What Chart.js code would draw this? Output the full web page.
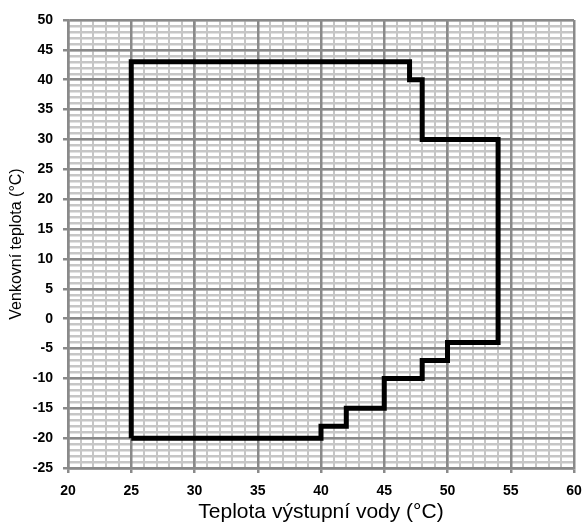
<!DOCTYPE html>
<html>
<head>
<meta charset="utf-8">
<script src="https://cdn.jsdelivr.net/npm/chart.js@4/dist/chart.umd.min.js"></script>
<style>
body { margin: 0; background: #fff; }
#wrap { width: 585px; height: 525px; }
</style>
</head>
<body>
<div id="wrap"><canvas id="envelope"></canvas></div>
<script>
// Operating envelope outline (water outlet temp vs outdoor temp)
const outlineX = [25, 25, 47, 47, 48, 48, 54, 54, 50, 50, 48, 48, 45, 45, 42, 42, 40, 40, 25];
const outlineY = [-20, 43, 43, 40, 40, 30, 30, -4, -4, -7, -7, -10, -10, -15, -15, -18, -18, -20, -20];

const xRange = [20, 60];
const yRange = [-25, 50];
const majorStep = 5;
const minorStep = 1;

const xTitle = 'Teplota výstupní vody (°C)';
const yTitle = 'Venkovní teplota (°C)';

const points = outlineX.map((x, i) => ({ x: x, y: outlineY[i] }));

const majorGrid = '#8a8a8a';
const minorGrid = '#c6c6c6';
const sans = "'Liberation Sans', Arial, sans-serif";
const tickFont = { family: sans, size: 14, weight: 'bold' };

function noPad(s) {
    s.paddingLeft = 0;
    s.paddingRight = 0;
    s.paddingTop = 0;
    s.paddingBottom = 0;
}

function minorScale(axis, range, position) {
    return {
        type: 'linear',
        axis: axis,
        position: position,
        min: range[0],
        max: range[1],
        ticks: { display: false, stepSize: minorStep },
        grid: { color: minorGrid, lineWidth: axis === 'y' ? 2.5 : 2, drawTicks: false, z: -2 },
        border: { display: false },
        afterFit: s => {
            if (axis === 'y') s.width = 0; else s.height = 0;
            noPad(s);
        }
    };
}

new Chart(document.getElementById('envelope'), {
    type: 'scatter',
    data: {
        datasets: [{
            data: points,
            showLine: true,
            borderColor: '#000',
            borderWidth: 5,
            borderJoinStyle: 'miter',
            pointRadius: 0,
            tension: 0,
            xAxisID: 'x',
            yAxisID: 'y'
        }]
    },
    options: {
        responsive: true,
        maintainAspectRatio: false,
        animation: false,
        layout: { padding: { top: 20, right: 11, left: 0, bottom: 0 } },
        plugins: { legend: { display: false }, tooltip: { enabled: false } },
        scales: {
            xMinor: minorScale('x', xRange, 'bottom'),
            yMinor: minorScale('y', yRange, 'left'),
            x: {
                type: 'linear',
                position: 'bottom',
                min: xRange[0],
                max: xRange[1],
                ticks: { stepSize: majorStep, color: '#000', font: tickFont, padding: 10 },
                grid: { color: majorGrid, lineWidth: 2.5, tickLength: 5, tickColor: majorGrid, z: -1 },
                border: { color: majorGrid, width: 2.5 },
                title: {
                    display: true,
                    text: xTitle,
                    color: '#000',
                    font: { family: sans, size: 21 },
                    padding: { top: 2, bottom: 0 }
                },
                afterFit: s => { s.height = 57; noPad(s); }
            },
            y: {
                type: 'linear',
                position: 'left',
                min: yRange[0],
                max: yRange[1],
                ticks: { stepSize: majorStep, color: '#000', font: tickFont, padding: 10 },
                grid: { color: majorGrid, lineWidth: 2.5, tickLength: 5, tickColor: majorGrid, z: -1 },
                border: { color: majorGrid, width: 2.5 },
                title: {
                    display: true,
                    text: yTitle,
                    color: '#000',
                    font: { family: sans, size: 16 },
                    padding: { top: 7, bottom: 0 }
                },
                afterFit: s => { s.width = 68; noPad(s); }
            }
        }
    }
});
</script>
</body>
</html>
